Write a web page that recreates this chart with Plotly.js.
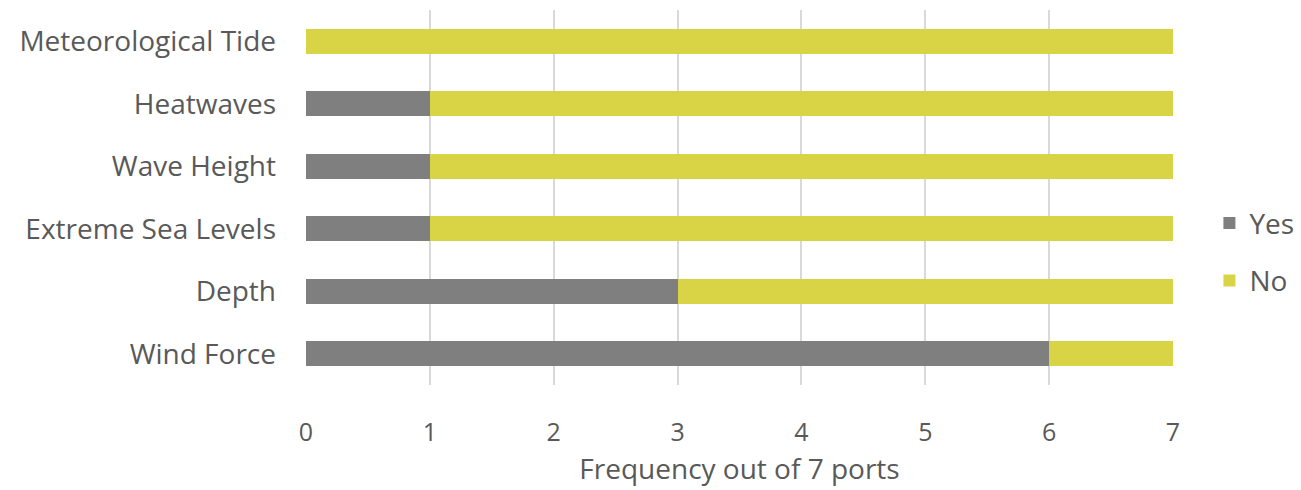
<!DOCTYPE html>
<html>
<head>
<meta charset="utf-8">
<script src="https://cdn.plot.ly/plotly-3.0.1.min.js"></script>
<style>html,body{margin:0;padding:0;background:#fff;}#chart{width:1301px;height:490px;}</style>
</head>
<body>
<div id="chart"></div>
<script>
const categories = ["Wind Force", "Depth", "Extreme Sea Levels", "Wave Height", "Heatwaves", "Meteorological Tide"];
const yesValues = [6, 3, 1, 1, 1, 0];
const noValues = [1, 4, 6, 6, 6, 7];
const xTicks = [0, 1, 2, 3, 4, 5, 6, 7];

const fontFam = "'Open Sans', sans-serif";
const textColor = "#595959";

const traces = [
  {type: "bar", orientation: "h", name: "Yes", y: categories, x: yesValues,
   marker: {color: "#7f7f7f"}, legendgroup: "a", hoverinfo: "x+y"},
  {type: "bar", orientation: "h", name: "No", y: categories, x: noValues,
   marker: {color: "#d9d445"}, legendgroup: "b", hoverinfo: "x+y"}
];

const layout = {
  width: 1301, height: 490,
  margin: {l: 306, r: 128, t: 10, b: 105, autoexpand: false},
  paper_bgcolor: "#fff", plot_bgcolor: "#fff",
  barmode: "stack", bargap: 0.6,
  font: {family: fontFam, color: textColor, size: 24},
  xaxis: {
    range: [0, 7], tickvals: xTicks, ticktext: xTicks.map(String),
    showgrid: true, gridcolor: "#d9d9d9", gridwidth: 2, zeroline: false,
    showline: false, ticks: "", ticklabelstandoff: 30,
    tickfont: {size: 25, color: textColor, family: fontFam},
    title: {text: "Frequency out of 7 ports", font: {size: 28, color: textColor, family: fontFam}, standoff: 12},
    fixedrange: true
  },
  yaxis: {
    type: "category", showgrid: false, zeroline: false, showline: false,
    ticks: "", ticklabelstandoff: 29,
    tickfont: {size: 28, color: textColor, family: fontFam},
    fixedrange: true
  },
  legend: {
    x: 1.042, xanchor: "left", y: 0.355, yanchor: "middle",
    traceorder: "grouped", tracegroupgap: 18,
    font: {size: 28, color: textColor, family: fontFam},
    itemwidth: 30
  },
  showlegend: true
};

Plotly.newPlot("chart", traces, layout, {displayModeBar: false, staticPlot: true});
</script>
</body>
</html>
